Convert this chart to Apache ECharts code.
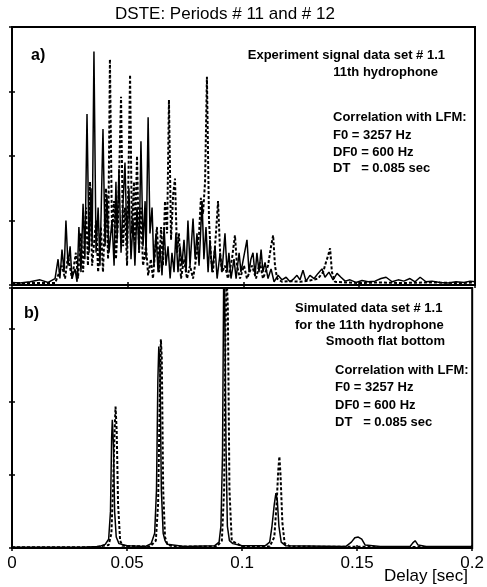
<!DOCTYPE html>
<html>
<head>
<meta charset="utf-8">
<script src="https://cdn.jsdelivr.net/npm/echarts@6/dist/echarts.min.js"></script>
<style>
  html, body { margin: 0; padding: 0; background: #fff; }
  #chart { width: 487px; height: 587px; }
</style>
</head>
<body>
<div id="chart"></div>
<script>
// panel a) experiment, solid trace (delay in sec, correlation value)
const topSolidT = [0, 0.0035, 0.0078, 0.0121, 0.0156, 0.0186, 0.0199, 0.0207, 0.0216, 0.0225, 0.0233, 0.0242, 0.0251, 0.0259, 0.0272, 0.0281, 0.0289, 0.0298, 0.0307, 0.0315, 0.0324, 0.0333, 0.0341, 0.0346, 0.0354, 0.0363, 0.0372, 0.0380, 0.0393, 0.0402, 0.0410, 0.0419, 0.0432, 0.0441, 0.0449, 0.0454, 0.0462, 0.0471, 0.0480, 0.0488, 0.0497, 0.0505, 0.0514, 0.0523, 0.0531, 0.0540, 0.0549, 0.0557, 0.0566, 0.0575, 0.0579, 0.0588, 0.0596, 0.0605, 0.0613, 0.0622, 0.0631, 0.0639, 0.0648, 0.0657, 0.0665, 0.0674, 0.0683, 0.0691, 0.0700, 0.0708, 0.0717, 0.0726, 0.0734, 0.0743, 0.0752, 0.0760, 0.0769, 0.0782, 0.0791, 0.0799, 0.0808, 0.0821, 0.0829, 0.0838, 0.0847, 0.0855, 0.0864, 0.0877, 0.0886, 0.0899, 0.0907, 0.0920, 0.0929, 0.0937, 0.0946, 0.0959, 0.0968, 0.0981, 0.0989, 0.1002, 0.1015, 0.1024, 0.1032, 0.1041, 0.1050, 0.1058, 0.1067, 0.1076, 0.1084, 0.1093, 0.1106, 0.1119, 0.1132, 0.1149, 0.1166, 0.1184, 0.1201, 0.1218, 0.1231, 0.1244, 0.1257, 0.1270, 0.1287, 0.1305, 0.1322, 0.1339, 0.1352, 0.1369, 0.1387, 0.1404, 0.1421, 0.1439, 0.1460, 0.1486, 0.1512, 0.1538, 0.1568, 0.1594, 0.1616, 0.1642, 0.1668, 0.1693, 0.1719, 0.1741, 0.1763, 0.1788, 0.1814, 0.1849, 0.1884, 0.1918, 0.1953, 0.1979, 0.2];
const topSolidV = [0.04, 0.03, 0.05, 0.08, 0.04, 0.1, 0.4, 0.1, 0.55, 0.2, 1.0, 0.3, 0.6, 0.1, 0.25, 0.05, 0.9, 0.2, 1.26, 0.4, 2.65, 0.5, 1.5, 0.6, 3.62, 0.5, 1.2, 0.3, 2.42, 0.6, 1.4, 0.5, 1.0, 0.3, 1.6, 0.7, 1.8, 0.5, 1.3, 1.9, 0.6, 1.5, 0.4, 1.0, 0.3, 1.2, 0.5, 2.23, 0.6, 1.3, 0.4, 2.6, 0.8, 1.2, 0.3, 0.8, 0.2, 0.6, 0.15, 0.9, 0.3, 0.6, 0.1, 0.5, 0.2, 0.8, 0.2, 0.6, 0.3, 0.7, 0.2, 1.0, 0.3, 1.03, 0.4, 0.8, 0.3, 1.3, 0.4, 0.9, 0.2, 0.7, 0.2, 0.6, 0.1, 0.5, 0.2, 0.8, 0.2, 0.5, 0.1, 0.4, 0.1, 0.5, 0.2, 0.45, 0.7, 0.2, 0.4, 0.5, 0.15, 0.5, 0.2, 0.55, 0.2, 0.35, 0.1, 0.25, 0.05, 0.15, 0.08, 0.12, 0.05, 0.1, 0.15, 0.08, 0.23, 0.06, 0.15, 0.1, 0.18, 0.25, 0.12, 0.2, 0.08, 0.18, 0.12, 0.06, 0.08, 0.04, 0.07, 0.05, 0.06, 0.1, 0.12, 0.05, 0.08, 0.06, 0.1, 0.05, 0.12, 0.05, 0.06, 0.04, 0.03, 0.05, 0.04, 0.06, 0.05];

// panel a) experiment, dashed trace
const topDashT = [0, 0.0121, 0.0186, 0.0216, 0.0229, 0.0242, 0.0259, 0.0276, 0.0285, 0.0298, 0.0307, 0.0320, 0.0328, 0.0337, 0.0346, 0.0363, 0.0372, 0.0384, 0.0393, 0.0406, 0.0415, 0.0423, 0.0432, 0.0441, 0.0449, 0.0458, 0.0471, 0.0480, 0.0488, 0.0497, 0.0510, 0.0518, 0.0527, 0.0531, 0.0540, 0.0549, 0.0557, 0.0566, 0.0579, 0.0588, 0.0600, 0.0609, 0.0626, 0.0635, 0.0644, 0.0652, 0.0661, 0.0670, 0.0678, 0.0687, 0.0696, 0.0704, 0.0713, 0.0721, 0.0730, 0.0743, 0.0756, 0.0769, 0.0782, 0.0799, 0.0808, 0.0816, 0.0825, 0.0834, 0.0842, 0.0851, 0.0860, 0.0868, 0.0881, 0.0890, 0.0899, 0.0907, 0.0920, 0.0933, 0.0950, 0.0963, 0.0972, 0.0985, 0.1002, 0.1015, 0.1037, 0.1054, 0.1071, 0.1084, 0.1106, 0.1119, 0.1128, 0.1136, 0.1145, 0.1166, 0.1201, 0.1244, 0.1287, 0.1322, 0.1344, 0.1356, 0.1365, 0.1374, 0.1382, 0.1395, 0.1439, 0.1503, 0.1590, 0.1676, 0.1806, 0.1935, 0.2];
const topDashV = [0.03, 0.03, 0.03, 0.3, 0.1, 0.45, 0.1, 0.5, 0.1, 0.8, 0.2, 1.2, 0.3, 1.6, 0.3, 1.0, 0.2, 0.9, 0.2, 1.5, 0.4, 3.5, 0.8, 1.3, 0.4, 1.0, 2.92, 0.6, 1.2, 0.3, 3.26, 0.8, 1.6, 0.6, 2.0, 0.5, 1.2, 0.3, 0.6, 0.15, 0.4, 0.1, 0.9, 0.2, 0.9, 0.3, 1.3, 0.8, 2.87, 0.7, 1.4, 1.65, 0.5, 0.8, 0.1, 0.4, 0.1, 0.3, 0.1, 0.5, 0.8, 1.35, 1.1, 1.6, 3.23, 1.0, 0.4, 0.2, 0.8, 1.3, 0.5, 0.2, 0.3, 0.1, 0.4, 0.77, 0.3, 0.1, 0.3, 0.1, 0.3, 0.1, 0.35, 0.1, 0.3, 0.6, 0.77, 0.3, 0.1, 0.05, 0.06, 0.05, 0.07, 0.1, 0.2, 0.35, 0.45, 0.57, 0.2, 0.05, 0.04, 0.03, 0.04, 0.03, 0.04, 0.03, 0.04];

// panel b) simulated, solid trace
const botSolidT = [0, 0.030, 0.038, 0.0405, 0.0420, 0.0428, 0.0433, 0.0436, 0.0441, 0.0446, 0.0453, 0.0465, 0.050, 0.058, 0.0605, 0.0620, 0.0628, 0.0634, 0.0638, 0.0643, 0.0649, 0.0657, 0.0665, 0.0675, 0.075, 0.088, 0.0900, 0.0908, 0.0915, 0.0920, 0.0924, 0.0930, 0.0936, 0.0945, 0.0960, 0.100, 0.110, 0.1120, 0.1130, 0.1140, 0.1147, 0.1153, 0.1160, 0.1170, 0.119, 0.145, 0.1475, 0.1490, 0.1505, 0.1520, 0.1535, 0.160, 0.173, 0.1742, 0.1752, 0.1765, 0.180, 0.2];
const botSolidV = [0.01, 0.01, 0.02, 0.05, 0.12, 0.5, 1.5, 1.75, 1.4, 0.5, 0.15, 0.06, 0.03, 0.02, 0.06, 0.2, 0.8, 2.3, 2.75, 2.5, 0.8, 0.2, 0.1, 0.05, 0.02, 0.03, 0.08, 0.3, 1.3, 3.7, 3.6, 1.4, 0.3, 0.1, 0.06, 0.03, 0.03, 0.08, 0.3, 0.6, 0.75, 0.65, 0.3, 0.08, 0.03, 0.02, 0.08, 0.14, 0.15, 0.12, 0.04, 0.02, 0.02, 0.07, 0.1, 0.04, 0.02, 0.02];

// panel b) simulated, dashed trace
const botDashT = [0, 0.035, 0.042, 0.0432, 0.0440, 0.0446, 0.0450, 0.0455, 0.0461, 0.0470, 0.048, 0.060, 0.0625, 0.0635, 0.0642, 0.0647, 0.0651, 0.0657, 0.0665, 0.0675, 0.070, 0.089, 0.0912, 0.0922, 0.0928, 0.0933, 0.0938, 0.0945, 0.0955, 0.100, 0.112, 0.1140, 0.1150, 0.1157, 0.1162, 0.1167, 0.1175, 0.1185, 0.121, 0.2];
const botDashV = [0.01, 0.01, 0.04, 0.2, 0.9, 1.6, 1.93, 1.6, 0.6, 0.1, 0.03, 0.02, 0.1, 0.6, 2.0, 2.85, 2.6, 0.8, 0.15, 0.05, 0.02, 0.02, 0.1, 0.8, 3.0, 3.7, 3.3, 0.8, 0.1, 0.02, 0.02, 0.15, 0.6, 1.05, 1.25, 1.0, 0.35, 0.06, 0.02, 0.01];

const xTicks = [0, 0.05, 0.1, 0.15, 0.2];

function pairs(t, v) {
  return t.map(function (x, i) { return [x, v[i]]; });
}

const font = "'Liberation Sans', Arial, sans-serif";

function note(x, y, text, align) {
  return {
    type: "text",
    x: x,
    y: y,
    style: {
      text: text,
      fill: "#000",
      font: "bold 13px " + font,
      textAlign: align || "left",
      textVerticalAlign: "middle",
    },
  };
}

const chart = echarts.init(document.getElementById("chart"));

function xAxisFor(grid, pos, labels) {
  return {
    type: "value",
    gridIndex: grid,
    position: pos,
    min: 0,
    max: 0.2,
    interval: 0.05,
    axisLine: { show: false },
    axisTick: { show: true, inside: true, length: 3, lineStyle: { color: "#000", width: 1.5 } },
    axisLabel: {
      show: labels,
      color: "#000",
      fontFamily: font,
      fontSize: 17,
      margin: 7,
      formatter: function (v) {
        return String(xTicks.find(function (t) { return Math.abs(t - v) < 1e-9; }));
      },
    },
    splitLine: { show: false },
  };
}

function yAxisFor(grid, pos, max) {
  return {
    type: "value",
    gridIndex: grid,
    position: pos,
    min: 0,
    max: max,
    interval: 1,
    axisLine: { show: false },
    axisTick: { show: true, inside: true, length: 3, lineStyle: { color: "#000", width: 1.5 } },
    axisLabel: { show: false },
    splitLine: { show: false },
  };
}

const solidStyle = { color: "#000", width: 1.5 };
const dashStyle = { color: "#000", width: 2, type: [3, 2] };

chart.setOption({
  animation: false,
  backgroundColor: "#fff",
  grid: [
    { left: 12, right: 12, top: 27, height: 258, show: true, borderColor: "#000", borderWidth: 2 },
    { left: 12, right: 12, top: 288, height: 260, show: true, borderColor: "#000", borderWidth: 2 },
  ],
  xAxis: [
    xAxisFor(0, "bottom", false),
    xAxisFor(0, "top", false),
    xAxisFor(1, "bottom", true),
    xAxisFor(1, "top", false),
  ],
  yAxis: [
    yAxisFor(0, "left", 4),
    yAxisFor(0, "right", 4),
    yAxisFor(1, "left", 3.55),
    yAxisFor(1, "right", 3.55),
  ],
  series: [
    { type: "line", xAxisIndex: 0, yAxisIndex: 0, showSymbol: false, lineStyle: solidStyle, data: pairs(topSolidT, topSolidV) },
    { type: "line", xAxisIndex: 0, yAxisIndex: 0, showSymbol: false, lineStyle: dashStyle, data: pairs(topDashT, topDashV) },
    { type: "line", xAxisIndex: 2, yAxisIndex: 2, showSymbol: false, lineStyle: solidStyle, data: pairs(botSolidT, botSolidV) },
    { type: "line", xAxisIndex: 2, yAxisIndex: 2, showSymbol: false, lineStyle: dashStyle, data: pairs(botDashT, botDashV) },
  ],
  graphic: [
    {
      type: "text",
      x: 225,
      y: 14,
      style: { text: "DSTE: Periods # 11 and # 12", fill: "#000", font: "17px " + font, textAlign: "center", textVerticalAlign: "middle" },
    },
    { type: "text", x: 31, y: 56, style: { text: "a)", fill: "#000", font: "bold 16px " + font, textVerticalAlign: "middle" } },
    note(445, 55, "Experiment signal data set # 1.1", "right"),
    note(438, 72, "11th hydrophone", "right"),
    note(333, 117, "Correlation with LFM:"),
    note(333, 135, "F0 = 3257 Hz"),
    note(333, 152, "DF0 = 600 Hz"),
    note(333, 168, "DT   = 0.085 sec"),
    { type: "text", x: 24, y: 314, style: { text: "b)", fill: "#000", font: "bold 16px " + font, textVerticalAlign: "middle" } },
    note(295, 308, "Simulated data set # 1.1"),
    note(295, 325, "for the 11th hydrophone"),
    note(445, 341, "Smooth flat bottom", "right"),
    note(335, 370, "Correlation with LFM:"),
    note(335, 387, "F0 = 3257 Hz"),
    note(335, 405, "DF0 = 600 Hz"),
    note(335, 422, "DT   = 0.085 sec"),
    {
      type: "text",
      x: 468,
      y: 576,
      style: { text: "Delay [sec]", fill: "#000", font: "17px " + font, textAlign: "right", textVerticalAlign: "middle" },
    },
  ],
});
</script>
</body>
</html>
